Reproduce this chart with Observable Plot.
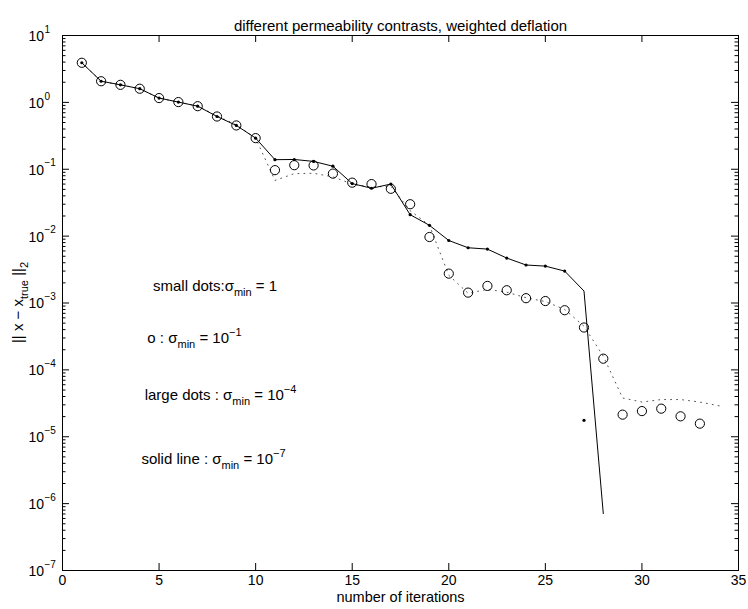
<!DOCTYPE html>
<html>
<head>
<meta charset="utf-8">
<script src="https://cdn.jsdelivr.net/npm/d3@7"></script>
<script src="https://cdn.jsdelivr.net/npm/@observablehq/plot@0.6"></script>
<style>
  html, body { margin: 0; padding: 0; background: #fff; }
  #chart svg { display: block; }
</style>
</head>
<body>
<div id="chart"></div>
<script>
// ---- data ----
const titleText = "different permeability contrasts, weighted deflation";
const xLabelText = "number of iterations";

// solid line: sigma_min = 1e-7
const solidIter = [1,2,3,4,5,6,7,8,9,10,11,12,13,14,15,16,17,18,19,20,21,22,23,24,25,26,27,28];
const solidVals = [3.91,2.07,1.83,1.60,1.16,1.01,0.877,0.615,0.452,0.292,0.139,0.140,0.131,0.111,0.061,0.052,0.060,0.0209,0.0145,0.0086,0.0067,0.0064,0.0047,0.0037,0.00356,0.0030,0.00151,7.1e-7];

// small dots: sigma_min = 1
const smallIter = [1,2,3,4,5,6,7,8,9,10,11,12,13,14,15,16,17,18,19,20,21,22,23,24,25,26,27];
const smallVals = [3.91,2.07,1.83,1.60,1.16,1.01,0.877,0.615,0.452,0.292,0.139,0.140,0.131,0.111,0.061,0.052,0.060,0.0209,0.0145,0.0086,0.0067,0.0064,0.0047,0.0037,0.00356,0.0030,1.76e-5];

// circles: sigma_min = 1e-1
const circleIter = [1,2,3,4,5,6,7,8,9,10,11,12,13,14,15,16,17,18,19,20,21,22,23,24,25,26,27,28,29,30,31,32,33];
const circleVals = [3.91,2.07,1.83,1.60,1.16,1.01,0.877,0.615,0.452,0.292,0.097,0.115,0.114,0.086,0.063,0.060,0.051,0.030,0.0097,0.00275,0.00143,0.00180,0.00155,0.00118,0.00107,0.00078,0.00043,0.000147,2.14e-5,2.42e-5,2.63e-5,2.02e-5,1.57e-5];

// dotted line ("large dots"): sigma_min = 1e-4
const dottedIter = [1,2,3,4,5,6,7,8,9,10,11,12,13,14,15,16,17,18,19,20,21,22,23,24,25,26,27,28,29,30,31,32,33,34];
const dottedVals = [3.91,2.07,1.83,1.60,1.16,1.01,0.88,0.63,0.46,0.292,0.068,0.086,0.087,0.077,0.060,0.054,0.056,0.024,0.0145,0.0026,0.0014,0.0016,0.00145,0.0012,0.00105,0.0008,0.00045,0.00016,3.8e-5,3.3e-5,3.6e-5,3.6e-5,3.3e-5,2.9e-5];

// axis ticks
const xTicks = [0,5,10,15,20,25,30,35];
const yDecades = [-7,-6,-5,-4,-3,-2,-1,0,1];
const minorMult = [2,3,4,5,6,7,8,9];

// annotation texts
const annotations = [
  {x: 4.71, y: 1.50e-3, parts: [["small dots:", ""], ["σ", ""], ["min", "sub"], [" = 1", ""]]},
  {x: 4.42, y: 2.48e-4, parts: [["o : ", ""], ["σ", ""], ["min", "sub"], [" = 10", ""], ["−1", "sup"]]},
  {x: 4.28, y: 3.5e-5,  parts: [["large dots : ", ""], ["σ", ""], ["min", "sub"], [" = 10", ""], ["−4", "sup"]]},
  {x: 4.11, y: 3.9e-6,  parts: [["solid line : ", ""], ["σ", ""], ["min", "sub"], [" = 10", ""], ["−7", "sup"]]}
];

// ---- build tables ----
const solid = solidIter.map((x, i) => ({x, y: solidVals[i]}));
const small = smallIter.map((x, i) => ({x, y: smallVals[i]}));
const circles = circleIter.map((x, i) => ({x, y: circleVals[i]}));
const dotted = dottedIter.map((x, i) => ({x, y: dottedVals[i]}));
const yMajor = yDecades.map(d => Math.pow(10, d));
const yMinor = yDecades.slice(0, -1).flatMap(d => minorMult.map(m => m * Math.pow(10, d)));

const W = 748, H = 609;
const mL = 62, mR = 10, mT = 35, mB = 39;
const fw = W - mL - mR, fh = H - mT - mB;
const majorLen = 7, minorLen = 3.5;
const FONT = "'Liberation Sans', Arial, Helvetica, sans-serif";

const plot = Plot.plot({
  width: W,
  height: H,
  marginLeft: mL, marginRight: mR, marginTop: mT, marginBottom: mB,
  style: {fontFamily: FONT, background: "#fff", color: "#000"},
  x: {domain: [0, 35], axis: null},
  y: {type: "log", domain: [1e-7, 10], axis: null},
  marks: [
    // dotted line (large dots)
    Plot.line(dotted, {x: "x", y: "y", stroke: "#555", strokeWidth: 1, strokeDasharray: "1,5"}),
    // solid line
    Plot.line(solid, {x: "x", y: "y", stroke: "#000", strokeWidth: 1}),
    // circles
    Plot.dot(circles, {x: "x", y: "y", r: 4.6, stroke: "#000", fill: "none", strokeWidth: 1}),
    // small dots
    Plot.dot(small, {x: "x", y: "y", r: 1.6, fill: "#000", stroke: "none"}),
    // frame
    Plot.frame({stroke: "#000", strokeWidth: 1}),
    // x ticks (bottom & top, inward)
    Plot.tickX(xTicks, {x: d => d, insetTop: fh - majorLen, stroke: "#000"}),
    Plot.tickX(xTicks, {x: d => d, insetBottom: fh - majorLen, stroke: "#000"}),
    // y major ticks (left & right)
    Plot.tickY(yMajor, {y: d => d, insetRight: fw - majorLen, stroke: "#000"}),
    Plot.tickY(yMajor, {y: d => d, insetLeft: fw - majorLen, stroke: "#000"}),
    // y minor ticks
    Plot.tickY(yMinor, {y: d => d, insetRight: fw - minorLen, stroke: "#000"}),
    Plot.tickY(yMinor, {y: d => d, insetLeft: fw - minorLen, stroke: "#000"}),
    // x tick labels
    Plot.text(xTicks, {x: d => d, frameAnchor: "bottom", dy: 14, text: d => String(d), fontSize: 14, fill: "#000"}),
    // y tick labels: base and exponent
    Plot.text(yDecades, {y: d => Math.pow(10, d), frameAnchor: "left", dx: -34, dy: 1, textAnchor: "start", text: () => "10", fontSize: 14, fill: "#000"}),
    Plot.text(yDecades, {y: d => Math.pow(10, d), frameAnchor: "left", dx: -18, dy: -6, textAnchor: "start", text: d => d < 0 ? "−" + (-d) : String(d), fontSize: 10, fill: "#000"}),
    // title and x label
    Plot.text([titleText], {frameAnchor: "top", dy: -15, text: d => d, fontSize: 15, fill: "#000"}),
    Plot.text([xLabelText], {frameAnchor: "bottom", dy: 31, text: d => d, fontSize: 14.5, fill: "#000"})
  ]
});

document.getElementById("chart").appendChild(plot);

// ---- rich text (sub/superscripts) positioned with the plot's scales ----
const svg = d3.select(plot);
const sx = plot.scale("x"), sy = plot.scale("y");

function richText(g, parts, mainSize, smallSize) {
  let shift = 0;
  parts.forEach(([t, kind]) => {
    const ts = g.append("tspan").text(t).attr("fill", "#000");
    let target = 0;
    if (kind === "sub") target = 5;
    if (kind === "sup") target = -7;
    ts.attr("dy", target - shift);
    shift = target;
    ts.attr("font-size", kind ? smallSize : mainSize);
  });
}

const annG = svg.append("g").attr("font-family", FONT).attr("fill", "#000");
annotations.forEach(a => {
  const t = annG.append("text")
    .attr("x", sx.apply(a.x))
    .attr("y", sy.apply(a.y))
    .attr("fill", "#000")
    .attr("text-anchor", "start");
  richText(t, a.parts, 15, 11);
});

// y-axis label
const yl = svg.append("text")
  .attr("font-family", FONT)
  .attr("fill", "#000")
  .attr("text-anchor", "middle")
  .attr("transform", `translate(23,${(mT + H - mB) / 2}) rotate(-90)`);
richText(yl, [["|| x − x", ""], ["true", "sub"], [" ||", ""], ["2", "sub"]], 15, 11);
</script>
</body>
</html>
